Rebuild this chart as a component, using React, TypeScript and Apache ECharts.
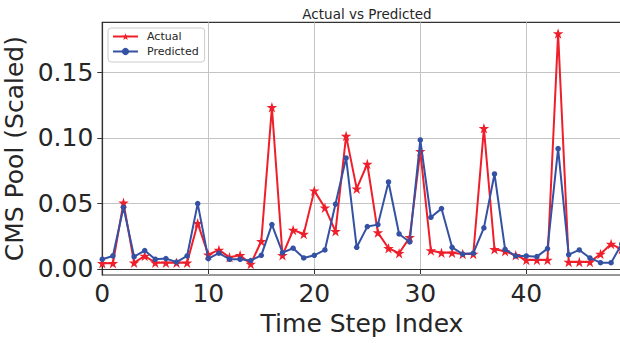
import React, { useEffect, useRef } from "react";
import * as echarts from "echarts";

const steps: number[] = Array.from({ length: 50 }, (_, i) => i);
const actual: number[] = [
  0.0043, 0.0043, 0.0505, 0.0048, 0.0099, 0.0048, 0.0048, 0.0048, 0.0048, 0.0348,
  0.0109, 0.0145, 0.0089, 0.0104, 0.0038, 0.0211, 0.1232, 0.0104, 0.0297, 0.0267,
  0.0597, 0.0467, 0.0287, 0.1014, 0.0612, 0.08, 0.0277, 0.0158, 0.012, 0.0241,
  0.0897, 0.014, 0.0124, 0.0124, 0.0114, 0.0114, 0.1072, 0.015, 0.0135, 0.0104,
  0.0069, 0.0069, 0.0069, 0.1794, 0.0053, 0.0053, 0.0053, 0.0114, 0.019, 0.015,
];
const predicted: number[] = [
  0.0074, 0.0099, 0.047, 0.0094, 0.014, 0.0074, 0.0079, 0.0053, 0.0099, 0.0498,
  0.0079, 0.012, 0.0074, 0.0074, 0.0064, 0.0104, 0.0338, 0.0124, 0.0158, 0.0084,
  0.0104, 0.0145, 0.0495, 0.0846, 0.0165, 0.0323, 0.0338, 0.0663, 0.0267, 0.0206,
  0.0983, 0.0394, 0.046, 0.0165, 0.0114, 0.012, 0.0313, 0.0724, 0.015, 0.0099,
  0.0099, 0.0094, 0.0155, 0.0917, 0.0109, 0.0145, 0.0084, 0.0048, 0.0048, 0.019,
];
const yTicks: number[] = [0, 0.05, 0.1, 0.15];
const xTicks: number[] = [0, 10, 20, 30, 40];

const STAR =
  "path://M50,0 L61.2,34.5 L97.6,34.5 L68.2,55.9 L79.4,90.5 L50,69.1 L20.6,90.5 L31.8,55.9 L2.4,34.5 L38.8,34.5 Z";

const RED = "#ee1f2b";
const BLUE = "#3451a3";
const TXT = "#262626";
const FONT = "DejaVu Sans";

export default function App() {
  const ref = useRef<HTMLDivElement>(null);
  useEffect(() => {
    document.body.style.margin = "0";
    if (!ref.current) return;
    const chart = echarts.init(ref.current, null, { renderer: "svg" });
    chart.setOption({
      animation: false,
      textStyle: { fontFamily: FONT },
      title: {
        text: "Actual vs Predicted",
        left: 362,
        top: 2,
        textAlign: "center",
        textStyle: { fontFamily: FONT, fontSize: 13.5, fontWeight: "normal", color: TXT },
      },
      legend: {
        orient: "vertical",
        left: 108,
        top: 28,
        padding: [3, 6, 5, 4],
        itemGap: 4,
        itemWidth: 25,
        itemHeight: 9,
        borderColor: "#cccccc",
        borderWidth: 1,
        borderRadius: 3,
        backgroundColor: "rgba(255,255,255,0.85)",
        textStyle: { fontFamily: FONT, fontSize: 11, color: TXT, padding: [0, 0, 0, 4] },
        data: ["Actual", "Predicted"],
      },
      grid: {
        left: 102.3,
        top: 22.3,
        width: 519.4,
        height: 252.7,
        outerBoundsMode: "none",
        containLabel: false,
        show: true,
        borderColor: "#333333",
        borderWidth: 1.2,
        backgroundColor: "transparent",
      },
      xAxis: {
        type: "value",
        min: 0,
        max: 49,
        interval: 10,
        name: "Time Step Index",
        nameLocation: "middle",
        nameGap: 35,
        nameTextStyle: { fontFamily: FONT, fontSize: 25, color: TXT },
        axisLine: { show: true, lineStyle: { color: "#333333", width: 1.2 } },
        axisTick: { show: true, length: 5, lineStyle: { color: "#333333", width: 1 } },
        axisLabel: {
          fontFamily: FONT,
          fontSize: 25,
          color: TXT,
          margin: 6,
          customValues: xTicks,
        },
        splitLine: { show: true, lineStyle: { color: "#c4c4c4", width: 1 } },
      },
      yAxis: {
        type: "value",
        min: -0.0046,
        max: 0.188,
        name: "CMS Pool (Scaled)",
        nameLocation: "middle",
        nameGap: 70,
        nameTextStyle: { fontFamily: FONT, fontSize: 25, color: TXT },
        axisLine: { show: true, lineStyle: { color: "#333333", width: 1.2 } },
        axisTick: { show: true, length: 5, lineStyle: { color: "#333333", width: 1 }, customValues: yTicks },
        axisLabel: {
          fontFamily: FONT,
          fontSize: 25,
          color: TXT,
          margin: 9,
          customValues: yTicks,
          formatter: (v: number) => v.toFixed(2),
        },
        splitLine: { show: true, lineStyle: { color: "#c4c4c4", width: 1 } },
      },
      series: [
        {
          name: "Actual",
          type: "line",
          data: steps.map((s, i) => [s, actual[i]]),
          symbol: STAR,
          symbolSize: 10.5,
          lineStyle: { color: RED, width: 2 },
          itemStyle: { color: RED },
          z: 3,
        },
        {
          name: "Predicted",
          type: "line",
          data: steps.map((s, i) => [s, predicted[i]]),
          symbol: "circle",
          symbolSize: 5.5,
          lineStyle: { color: BLUE, width: 2 },
          itemStyle: { color: BLUE },
          z: 4,
        },
      ],
    });
    return () => chart.dispose();
  }, []);
  return (
    <div style={{ position: "absolute", left: 0, top: 0, width: 620, height: 343, overflow: "hidden", background: "#fff" }}>
      <div ref={ref} style={{ width: 624, height: 343 }} />
    </div>
  );
}
